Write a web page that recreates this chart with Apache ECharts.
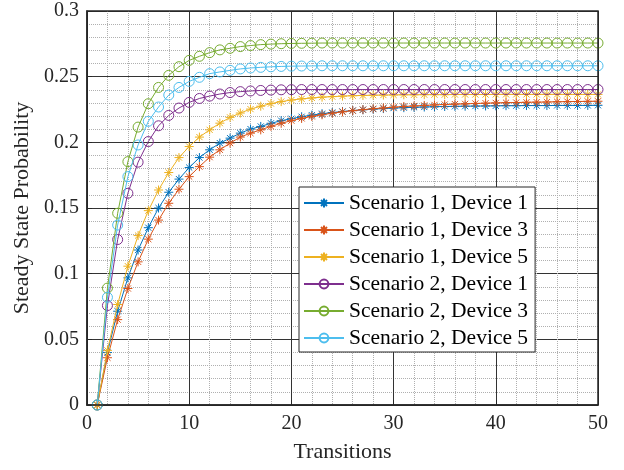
<!DOCTYPE html>
<html>
<head>
<meta charset="utf-8">
<script src="https://cdn.jsdelivr.net/npm/echarts@6/dist/echarts.min.js"></script>
<style>
    html, body { margin: 0; padding: 0; background: #fff; }
    #container { width: 624px; height: 470px; }
</style>
</head>
<body>
<div id="container"></div>
<script type="text/javascript">
    // x: transition number
    var transitions = [1, 2, 3, 4, 5, 6, 7, 8, 9, 10, 11, 12, 13, 14, 15, 16, 17, 18, 19, 20,
        21, 22, 23, 24, 25, 26, 27, 28, 29, 30, 31, 32, 33, 34, 35, 36, 37, 38, 39, 40,
        41, 42, 43, 44, 45, 46, 47, 48, 49, 50];

    var s1d1 = [0, 0.040, 0.0714, 0.0968, 0.118, 0.135, 0.150, 0.162, 0.172, 0.1808,
        0.1884, 0.1943, 0.1994, 0.2032, 0.207, 0.2101, 0.2121, 0.2145, 0.2165, 0.218,
        0.2195, 0.2207, 0.2218, 0.2227, 0.2235, 0.2242, 0.2248, 0.2253, 0.2257, 0.2261,
        0.2264, 0.2267, 0.2269, 0.2271, 0.2273, 0.2274, 0.2275, 0.2276, 0.2277, 0.2278,
        0.2279, 0.2279, 0.228, 0.228, 0.228, 0.2281, 0.2281, 0.2281, 0.2281, 0.2282];
    var s1d3 = [0, 0.036, 0.065, 0.0887, 0.109, 0.1263, 0.1408, 0.1536, 0.1643, 0.1739,
        0.1815, 0.1887, 0.1943, 0.1994, 0.204, 0.207, 0.2095, 0.2122, 0.2145, 0.2165,
        0.2182, 0.2197, 0.221, 0.2222, 0.2232, 0.2241, 0.2249, 0.2256, 0.2262, 0.2268,
        0.2273, 0.2277, 0.2281, 0.2285, 0.2288, 0.2291, 0.2293, 0.2296, 0.2298, 0.23,
        0.2302, 0.2303, 0.2305, 0.2306, 0.2307, 0.2309, 0.231, 0.2311, 0.2312, 0.2313];
    var s1d5 = [0, 0.0416, 0.0765, 0.1057, 0.129, 0.148, 0.1637, 0.177, 0.1884, 0.1968,
        0.204, 0.2095, 0.2146, 0.219, 0.2223, 0.2253, 0.2275, 0.2295, 0.231, 0.2322,
        0.2331, 0.2338, 0.2344, 0.2348, 0.2352, 0.2355, 0.2357, 0.2359, 0.236, 0.2361,
        0.2362, 0.2362, 0.2363, 0.2363, 0.2363, 0.2364, 0.2364, 0.2364, 0.2364, 0.2365,
        0.2365, 0.2365, 0.2365, 0.2365, 0.2365, 0.2365, 0.2365, 0.2365, 0.2365, 0.2365];
    var s2d1 = [0, 0.0757, 0.126, 0.1612, 0.1849, 0.2006, 0.2126, 0.2205, 0.2261, 0.2304,
        0.2334, 0.2352, 0.2368, 0.2379, 0.2386, 0.2391, 0.2395, 0.2398, 0.24, 0.2401,
        0.2402, 0.2402, 0.2402, 0.2402, 0.2402, 0.2402, 0.2402, 0.2402, 0.2402, 0.2402,
        0.2402, 0.2402, 0.2402, 0.2402, 0.2402, 0.2402, 0.2402, 0.2402, 0.2402, 0.2402,
        0.2402, 0.2402, 0.2402, 0.2402, 0.2402, 0.2402, 0.2402, 0.2402, 0.2402, 0.2402];
    var s2d3 = [0, 0.089, 0.146, 0.1853, 0.2116, 0.2294, 0.2418, 0.251, 0.2576, 0.2624,
        0.2655, 0.2683, 0.2704, 0.2716, 0.2729, 0.2737, 0.2744, 0.2748, 0.2751, 0.2753,
        0.2754, 0.2755, 0.2756, 0.2756, 0.2756, 0.2756, 0.2756, 0.2756, 0.2756, 0.2756,
        0.2756, 0.2756, 0.2756, 0.2756, 0.2756, 0.2756, 0.2756, 0.2756, 0.2756, 0.2756,
        0.2756, 0.2756, 0.2756, 0.2756, 0.2756, 0.2756, 0.2756, 0.2756, 0.2756, 0.2756];
    var s2d5 = [0, 0.082, 0.137, 0.1739, 0.198, 0.216, 0.2269, 0.236, 0.2418, 0.2464,
        0.2495, 0.2523, 0.2536, 0.2548, 0.2559, 0.2566, 0.2571, 0.2575, 0.2578, 0.258,
        0.2581, 0.2582, 0.2583, 0.2583, 0.2583, 0.2583, 0.2583, 0.2583, 0.2583, 0.2583,
        0.2583, 0.2583, 0.2583, 0.2583, 0.2583, 0.2583, 0.2583, 0.2583, 0.2583, 0.2583,
        0.2583, 0.2583, 0.2583, 0.2583, 0.2583, 0.2583, 0.2583, 0.2583, 0.2583, 0.2583];

    var seriesNames = ['Scenario 1, Device 1', 'Scenario 1, Device 3', 'Scenario 1, Device 5',
        'Scenario 2, Device 1', 'Scenario 2, Device 3', 'Scenario 2, Device 5'];
    var seriesValues = [s1d1, s1d3, s1d5, s2d1, s2d3, s2d5];
    var seriesColors = ['#0072BD', '#D95319', '#EDB120', '#7E2F8E', '#77AC30', '#4DBEEE'];

    var STAR = 'path://M5,0L5,10M0,5L10,5M1.6,1.6L8.4,8.4M1.6,8.4L8.4,1.6';
    var FONT = 'Liberation Serif';

    function pairs(ys) {
        var out = [];
        for (var i = 0; i < ys.length; i++) {
            out.push([transitions[i], ys[i]]);
        }
        return out;
    }

    var series = [];
    for (var k = 0; k < seriesNames.length; k++) {
        var isStar = k < 3;
        series.push({
            name: seriesNames[k],
            type: 'line',
            data: pairs(seriesValues[k]),
            symbol: isStar ? STAR : 'circle',
            symbolSize: isStar ? 9 : 10,
            showAllSymbol: true,
            lineStyle: {color: seriesColors[k], width: 1},
            itemStyle: {color: 'rgba(0,0,0,0)', borderColor: seriesColors[k], borderWidth: 1},
            emphasis: {disabled: true},
            z: 3 + k
        });
    }

    var dom = document.getElementById('container');
    var myChart = echarts.init(dom, null, {renderer: 'canvas'});
    var option = {
        animation: false,
        backgroundColor: '#fff',
        grid: {
            left: 87, right: 26, top: 11, bottom: 65,
            show: true,
            borderColor: '#262626',
            borderWidth: 1.5,
            z: 10
        },
        legend: {
            orient: 'vertical',
            left: 299,
            top: 187,
            padding: [5, 7, 3, 4],
            itemWidth: 40,
            itemHeight: 11,
            itemGap: 5,
            backgroundColor: '#fff',
            borderColor: '#262626',
            borderWidth: 1,
            textStyle: {fontFamily: FONT, fontSize: 21.5, color: '#000', lineHeight: 22},
            data: seriesNames
        },
        xAxis: {
            type: 'value',
            min: 0,
            max: 50,
            interval: 10,
            name: 'Transitions',
            nameLocation: 'middle',
            nameGap: 36,
            nameTextStyle: {fontFamily: FONT, fontSize: 22, color: '#262626'},
            axisLine: {show: true, lineStyle: {color: '#262626', width: 1.5}},
            axisTick: {show: true, inside: true, length: 5, lineStyle: {color: '#262626'}},
            minorTick: {show: false, splitNumber: 5},
            axisLabel: {fontFamily: FONT, fontSize: 20, color: '#262626', margin: 9},
            splitLine: {show: true, lineStyle: {color: '#333', width: 1}},
            minorSplitLine: {show: true, lineStyle: {color: '#b0b0b0', type: 'dotted', width: 1}}
        },
        yAxis: {
            type: 'value',
            min: 0,
            max: 0.3,
            interval: 0.05,
            name: 'Steady State Probability',
            nameLocation: 'middle',
            nameGap: 49,
            nameTextStyle: {fontFamily: FONT, fontSize: 22, color: '#262626'},
            axisLine: {show: true, lineStyle: {color: '#262626', width: 1.5}},
            axisTick: {show: true, inside: true, length: 5, lineStyle: {color: '#262626'}},
            minorTick: {show: false, splitNumber: 5},
            axisLabel: {fontFamily: FONT, fontSize: 20, color: '#262626', margin: 8},
            splitLine: {show: true, lineStyle: {color: '#333', width: 1}},
            minorSplitLine: {show: true, lineStyle: {color: '#b0b0b0', type: 'dotted', width: 1}}
        },
        series: series
    };
    myChart.setOption(option);
</script>
</body>
</html>
